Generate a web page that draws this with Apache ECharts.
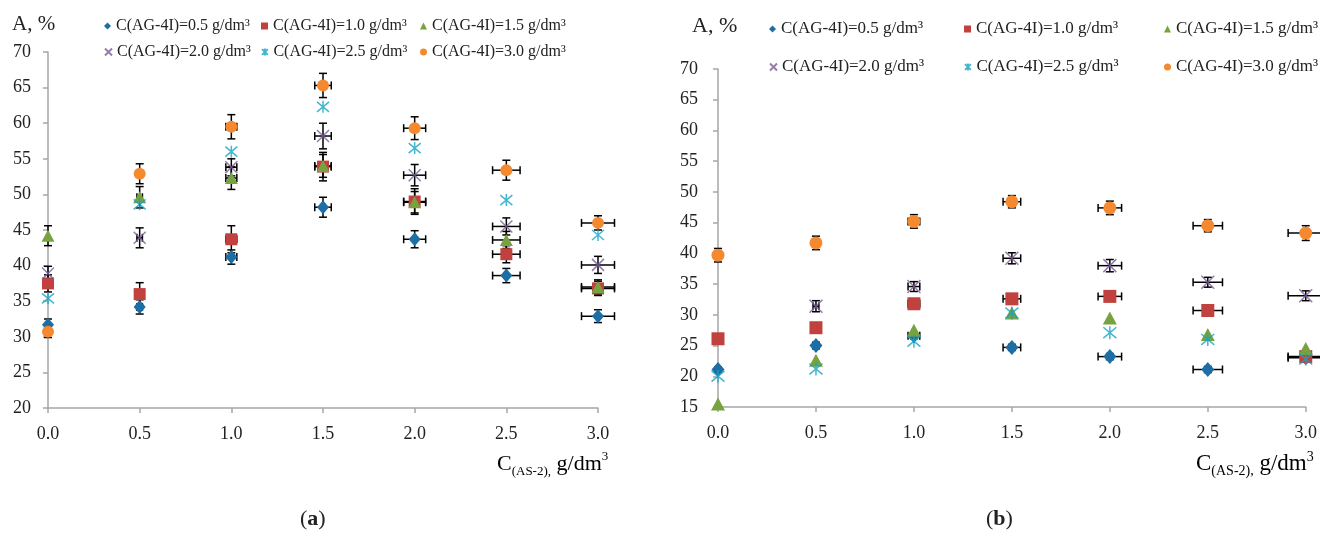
<!DOCTYPE html>
<html><head><meta charset="utf-8">
<script src="https://cdn.jsdelivr.net/npm/echarts@6/dist/echarts.min.js"></script>
<style>html,body{margin:0;padding:0;background:#fff}#c{width:1320px;height:536px}</style>
</head><body><div id="c"></div>
<script>
// ---- data ----
const xValues = [0, 0.5, 1.0, 1.5, 2.0, 2.5, 3.0];
const xErr = [0, 0.015, 0.03, 0.045, 0.06, 0.075, 0.09];
const seriesNames = ['C(AG-4I)=0.5 g/dm³', 'C(AG-4I)=1.0 g/dm³', 'C(AG-4I)=1.5 g/dm³',
                     'C(AG-4I)=2.0 g/dm³', 'C(AG-4I)=2.5 g/dm³', 'C(AG-4I)=3.0 g/dm³'];
// panel (a)
const a05 = [31.7, 34.2, 41.2, 48.2, 43.7, 38.6, 32.9];
const a10 = [37.5, 36.0, 43.7, 53.9, 49.0, 41.6, 36.8];
const a15 = [44.2, 49.6, 52.3, 54.0, 48.9, 43.6, 37.0];
const a20 = [38.9, 43.9, 53.8, 58.2, 52.7, 45.5, 40.1];
const a25 = [35.4, 48.6, 56.0, 62.3, 56.5, 49.2, 44.3];
const a30 = [30.7, 52.9, 59.5, 65.3, 59.3, 53.4, 46.0];
const aErr05 = [0.8, 1.0, 1.0, 1.4, 1.2, 1.0, 0.9];
const aErr10 = [1.2, 1.6, 1.9, 2.0, 1.8, 1.2, 1.0];
const aErr15 = [1.4, 1.5, 1.6, 1.6, 1.5, 1.2, 1.0];
const aErr20 = [1.0, 1.4, 1.2, 1.8, 1.5, 1.2, 1.2];
const aErr30 = [0.8, 1.4, 1.7, 1.7, 1.6, 1.4, 1.0];
// panel (b)
const b05 = [21.1, 25.0, 26.6, 24.7, 23.2, 21.1, 23.0];
const b10 = [26.1, 27.9, 31.8, 32.6, 33.0, 30.7, 23.2];
const b15 = [15.5, 22.6, 27.5, 30.3, 29.5, 26.8, 24.5];
const b20 = [null, 31.4, 34.6, 39.2, 38.0, 35.3, 33.1];
const b25 = [20.0, 21.2, 25.7, 30.3, 27.1, 26.0, 22.8];
const b30 = [39.7, 41.7, 45.2, 48.4, 47.4, 44.5, 43.3];
const bErr05 = [0.4, 0.5, 0.5, 0.5, 0.5, 0.5, 0.5];
const bErr10 = [0.6, 0.6, 0.8, 0.7, 0.6, 0.6, 0.6];
const bErr20 = [0.8, 0.9, 0.8, 0.9, 1.0, 0.8, 0.8];
const bErr30 = [1.1, 1.1, 1.1, 1.0, 1.1, 1.0, 1.2];
// ---- styling ----
const colors = ['#1c6ea4', '#c0413e', '#76a23f', '#7a5c99', '#17a2c4', '#f5892f'];
const X_PATH = 'path://M0,0L10,10M10,0L0,10';
const STAR_PATH = 'path://M0,0L10,10M10,0L0,10M5,-1L5,11';
const symbols = ['diamond', 'rect', 'triangle', X_PATH, STAR_PATH, 'circle'];
const FONT = 'Liberation Serif';

const aSets = [a05, a10, a15, a20, a25, a30];
const aErrs = [aErr05, aErr10, aErr15, aErr20, null, aErr30];
const bSets = [b05, b10, b15, b20, b25, b30];
const bErrs = [bErr05, bErr10, null, bErr20, null, bErr30];

function errRender(params, api) {
  const x = api.value(0), y = api.value(1), ey = api.value(2), ex = api.value(3);
  if (y == null || isNaN(y)) return null;
  const st = { stroke: '#000', lineWidth: 1.5 };
  const ch = [];
  const cap = 4;
  const L = (x1, y1, x2, y2) => ({ type: 'line', shape: { x1, y1, x2, y2 }, style: st });
  if (ey > 0) {
    const t = api.coord([x, y + ey]), b = api.coord([x, y - ey]);
    ch.push(L(t[0], t[1], b[0], b[1]));
    ch.push(L(t[0] - cap, t[1], t[0] + cap, t[1]));
    ch.push(L(b[0] - cap, b[1], b[0] + cap, b[1]));
  }
  if (ex > 0) {
    const l = api.coord([x - ex, y]), r = api.coord([x + ex, y]);
    ch.push(L(l[0], l[1], r[0], r[1]));
    ch.push(L(l[0], l[1] - cap, l[0], l[1] + cap));
    ch.push(L(r[0], r[1] - cap, r[0], r[1] + cap));
  }
  return { type: 'group', children: ch };
}

const series = [];
function addPanel(sets, errs, idx, size) {
  sets.forEach((vals, i) => {
    if (errs[i]) {
      series.push({
        type: 'custom', name: 'err' + idx + i, xAxisIndex: idx, yAxisIndex: idx,
        renderItem: errRender, z: 1, silent: true,
        data: vals.map((v, k) => [xValues[k], v, errs[i][k], xErr[k]]).filter(d => d[1] != null)
      });
    }
  });
  sets.forEach((vals, i) => {
    const isLine = i === 3 || i === 4;
    series.push({
      type: 'scatter', name: seriesNames[i], xAxisIndex: idx, yAxisIndex: idx,
      symbol: symbols[i],
      symbolSize: i === 0 ? [size, size + 2] : (i === 2 ? [size + 1, size] : size),
      z: 3,
      itemStyle: isLine ? { color: 'rgba(0,0,0,0)', borderColor: colors[i], borderWidth: 1.5 }
                        : { color: colors[i], opacity: 1 },
      data: vals.map((v, k) => [xValues[k], v]).filter(d => d[1] != null)
    });
  });
}
addPanel(aSets, aErrs, 0, 12);
addPanel(bSets, bErrs, 1, 13);

const legends = [];
function addLegends(xs, ys, fs) {
  seriesNames.forEach((n, i) => {
    legends.push({
      data: [n], left: xs[i % 3] - 4, top: ys[Math.floor(i / 3)] - 9, padding: 0,
      itemWidth: 7, itemHeight: 7, selectedMode: false,
      textStyle: { fontFamily: FONT, fontSize: fs, color: '#222', lineHeight: 18 }
    });
  });
}
addLegends([108, 265, 424], [26, 52], 16);
addLegends([773, 968, 1168], [29, 67], 17);

function xAxisCfg(idx) {
  return {
    type: 'value', gridIndex: idx, min: 0, max: 3, interval: 0.5,
    axisLine: { show: true, lineStyle: { color: '#a6a6a6', width: 1.5 } },
    axisTick: { show: true, length: 5, lineStyle: { color: '#a6a6a6', width: 1.5 } },
    splitLine: { show: false },
    axisLabel: { margin: 17, fontFamily: FONT, fontSize: 18, color: '#222',
                 formatter: v => v.toFixed(1) }
  };
}
function yAxisCfg(idx, min, margin) {
  return {
    type: 'value', gridIndex: idx, min: min, max: 70, interval: 5,
    axisLine: { show: true, lineStyle: { color: '#a6a6a6', width: 1.5 } },
    axisTick: { show: true, length: 5, lineStyle: { color: '#a6a6a6', width: 1.5 } },
    splitLine: { show: false },
    axisLabel: { margin: margin, fontFamily: FONT, fontSize: 18, color: '#222' }
  };
}

function axisTitle(x, y, big, small) {
  return {
    type: 'text', left: x, top: y,
    style: {
      text: '{c|C}{s|(AS-2),}{c| g/dm}{p|3}',
      rich: {
        c: { fontFamily: FONT, fontSize: big, color: '#222', lineHeight: 28, verticalAlign: 'middle' },
        s: { fontFamily: FONT, fontSize: small, color: '#222', lineHeight: 16, verticalAlign: 'bottom' },
        p: { fontFamily: FONT, fontSize: small, color: '#222', lineHeight: 16, verticalAlign: 'top' }
      }
    }
  };
}

const option = {
  animation: false,
  backgroundColor: '#fff',
  grid: [
    { left: 48, top: 52, width: 550, height: 356 },
    { left: 718, top: 69, width: 597, height: 338 }
  ],
  xAxis: [xAxisCfg(0), xAxisCfg(1)],
  yAxis: [yAxisCfg(0, 20, 17), yAxisCfg(1, 15, 20)],
  legend: legends,
  series: series,
  graphic: [
    { type: 'text', left: 12, top: 14, style: { text: 'A, %', fontFamily: FONT, fontSize: 21, fill: '#222' } },
    { type: 'text', left: 692, top: 15, style: { text: 'A, %', fontFamily: FONT, fontSize: 22, fill: '#222' } },
    axisTitle(497, 450, 22, 13),
    axisTitle(1196, 450, 23, 14),
    { type: 'text', left: 300, top: 508, style: { text: '({b|a})', fontFamily: FONT, fontSize: 22, fill: '#222',
      rich: { b: { fontFamily: FONT, fontSize: 22, fontWeight: 'bold', color: '#222' } } } },
    { type: 'text', left: 986, top: 508, style: { text: '({b|b})', fontFamily: FONT, fontSize: 22, fill: '#222',
      rich: { b: { fontFamily: FONT, fontSize: 22, fontWeight: 'bold', color: '#222' } } } }
  ]
};
const chart = echarts.init(document.getElementById('c'));
chart.setOption(option);
</script></body></html>
